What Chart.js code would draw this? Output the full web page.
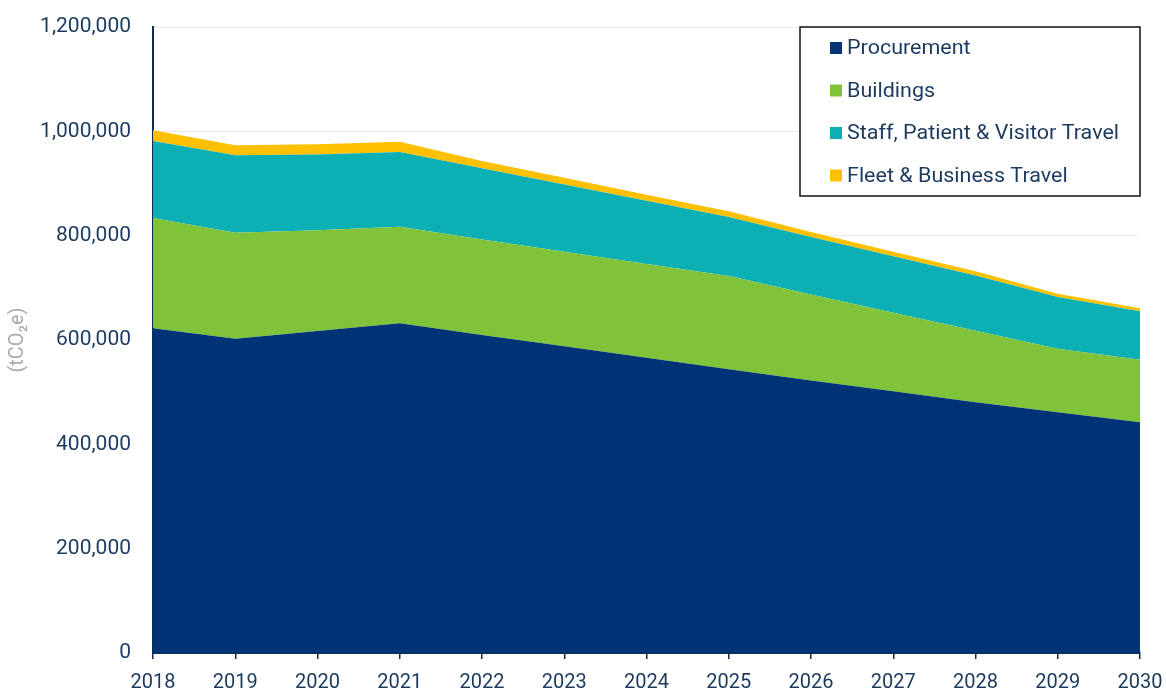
<!DOCTYPE html>
<html>
<head>
<meta charset="utf-8">
<script src="https://cdn.jsdelivr.net/npm/chart.js@4"></script>
<style>
html,body{margin:0;padding:0;background:#fff;}
#wrap{width:1166px;height:689px;}
</style>
</head>
<body>
<div id="wrap"><canvas id="c" width="1166" height="689"></canvas></div>
<script>
const years = ['2018','2019','2020','2021','2022','2023','2024','2025','2026','2027','2028','2029','2030'];
const procurement = [622700, 602300, 617300, 632300, 609800, 587900, 565800, 543700, 522600, 501900, 480600, 461500, 442200];
const buildings   = [211200, 203500, 192900, 185000, 182800, 181400, 180100, 178800, 164400, 150100, 136900, 121600, 119800];
const staffTravel = [147800, 148400, 145300, 143300, 136700, 128900, 121000, 113300, 110600, 108500, 106300,  99100,  93300];
const fleetTravel = [ 20500,  19200,  19900,  19200,  14000,  13000,  11500,  11000,   9500,   8500,   8000,   6500,   5500];
const seriesNames = ['Procurement', 'Buildings', 'Staff, Patient & Visitor Travel', 'Fleet & Business Travel'];
const seriesColors = ['#003375', '#80C33A', '#0CB0B4', '#FFC000'];
const yTicks = [0, 200000, 400000, 600000, 800000, 1000000, 1200000];

const textColor = '#1b3a5e';
const axisColor = '#0d2d55';

const seriesData = [procurement, buildings, staffTravel, fleetTravel];
const datasets = seriesData.map((d, i) => ({
  label: seriesNames[i],
  data: d,
  backgroundColor: seriesColors[i],
  borderColor: seriesColors[i],
  borderWidth: 0,
  pointRadius: 0,
  pointHoverRadius: 0,
  tension: 0,
  fill: i === 0 ? 'origin' : '-1'
}));

const boxLegend = {
  id: 'boxLegend',
  afterDraw(chart) {
    const ctx = chart.ctx;
    const x0 = 800, y0 = 27, x1 = 1140, y1 = 196;
    ctx.save();
    ctx.fillStyle = '#ffffff';
    ctx.fillRect(x0, y0, x1 - x0, y1 - y0);
    ctx.strokeStyle = '#111111';
    ctx.lineWidth = 1.5;
    ctx.strokeRect(x0, y0, x1 - x0, y1 - y0);
    ctx.font = '20px Roboto';
    ctx.textBaseline = 'middle';
    ctx.textAlign = 'left';
    chart.data.datasets.forEach((ds, i) => {
      const cy = 48 + i * 42.5;
      ctx.fillStyle = ds.backgroundColor;
      ctx.fillRect(830, cy - 6, 12, 12);
      ctx.save();
      ctx.translate(847, cy + 1);
      ctx.scale(1.075, 1);
      ctx.fillStyle = textColor;
      ctx.fillText(ds.label, 0, 0);
      ctx.restore();
    });
    ctx.restore();
  }
};

new Chart(document.getElementById('c'), {
  type: 'line',
  data: { labels: years, datasets },
  plugins: [boxLegend],
  options: {
    responsive: false,
    animation: false,
    events: [],
    layout: { padding: { top: 27, right: 26, bottom: 0, left: 0 } },
    plugins: {
      legend: { display: false },
      tooltip: { enabled: false },
      filler: { propagate: false }
    },
    scales: {
      x: {
        offset: false,
        grid: { drawOnChartArea: false, drawTicks: true, tickLength: 6, color: axisColor, lineWidth: 1.5 },
        border: { color: axisColor, width: 2 },
        ticks: { color: textColor, font: { family: 'Roboto', size: 20 }, padding: 12, maxRotation: 0, autoSkip: false },
        afterFit(s) { s.height = 36; s.paddingLeft = 0; s.paddingRight = 0; }
      },
      y: {
        stacked: true,
        min: 0,
        max: 1200000,
        afterBuildTicks(s) { s.ticks = yTicks.map(v => ({ value: v })); },
        grid: { drawTicks: false, color: '#eeeeee', lineWidth: 1 },
        border: { color: axisColor, width: 2 },
        ticks: {
          color: textColor,
          font: { family: 'Roboto', size: 21 },
          padding: 22,
          callback: v => v.toLocaleString('en-US')
        },
        title: {
          display: true,
          text: '(tCO\u2082e)',
          color: '#aaaaaa',
          font: { family: 'Roboto', size: 20 },
          padding: { top: 6, bottom: 0 }
        },
        afterFit(s) { s.width = 153; s.paddingTop = 0; s.paddingBottom = 0; }
      }
    }
  }
});
</script>
</body>
</html>
